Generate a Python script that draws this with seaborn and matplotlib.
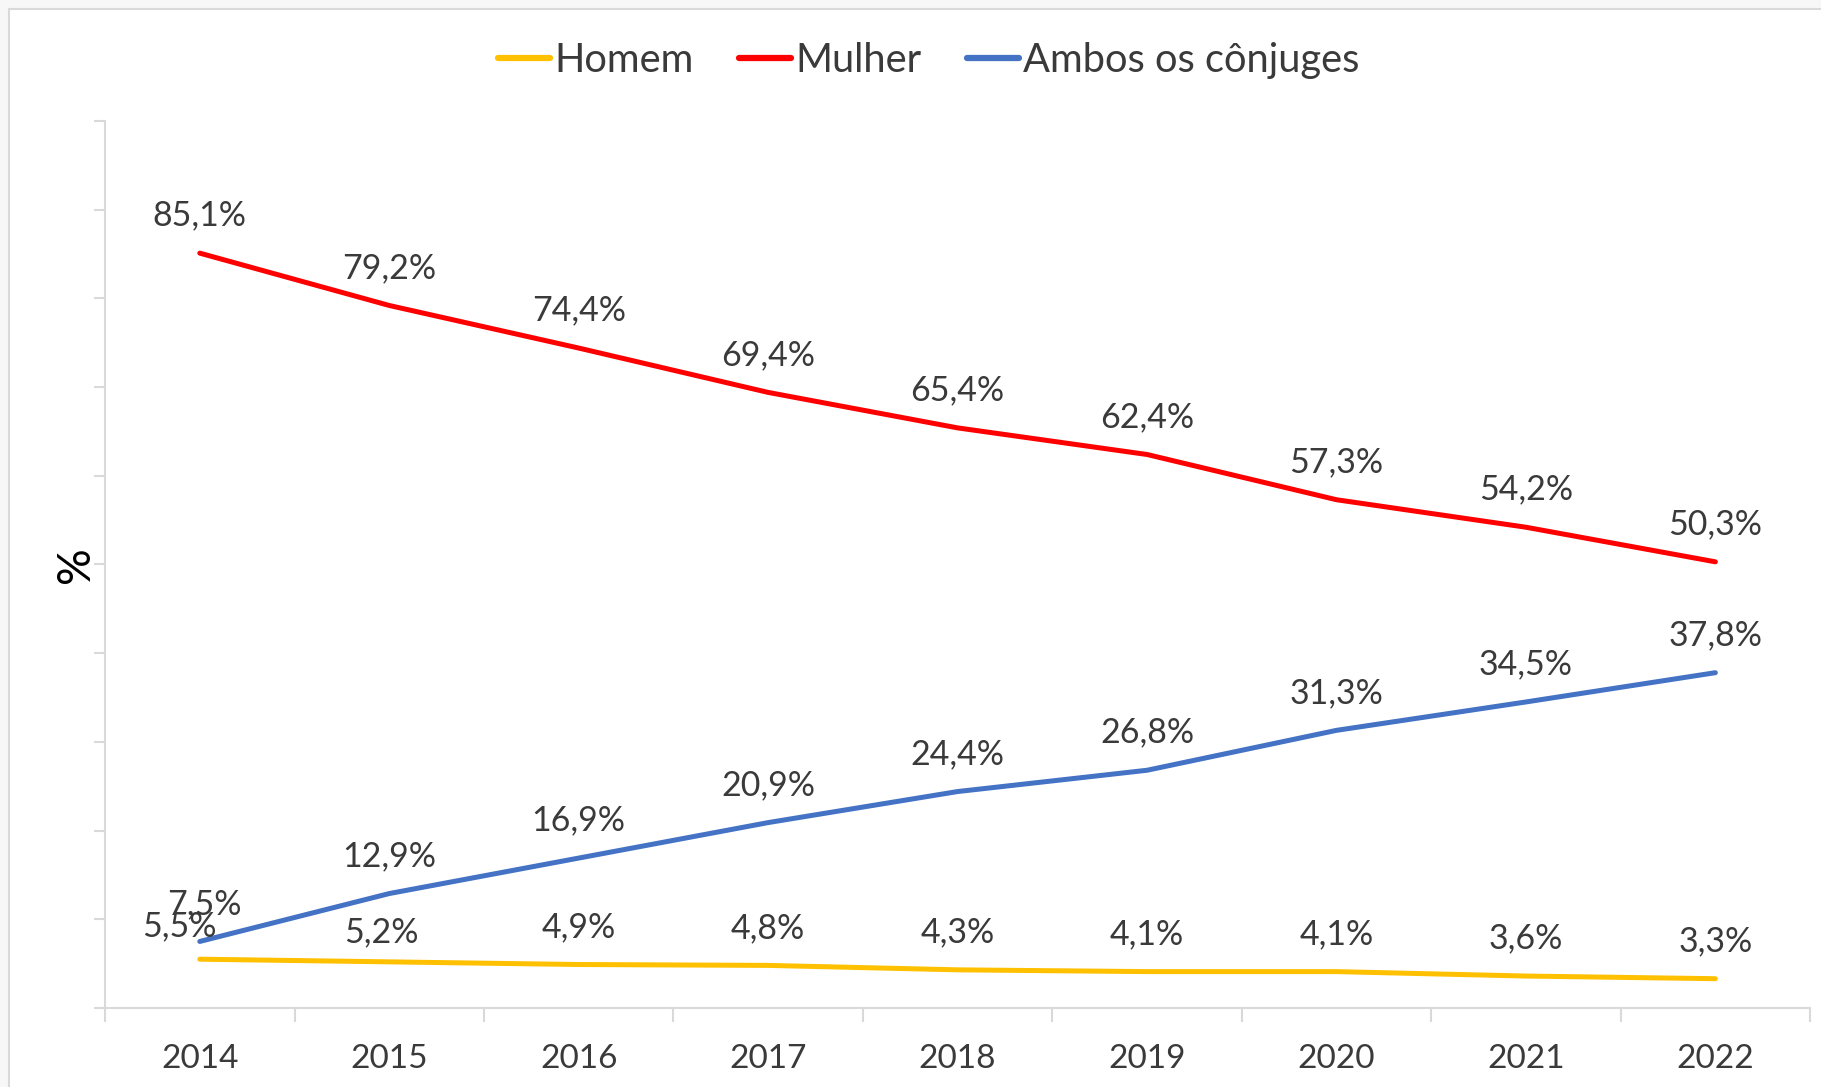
import matplotlib
matplotlib.use("Agg")
import matplotlib.pyplot as plt
from matplotlib.patches import Rectangle
import seaborn as sns
import pandas as pd
import numpy as np

# ---- data ----
years = ["2014", "2015", "2016", "2017", "2018", "2019", "2020", "2021", "2022"]
homem = [5.5, 5.2, 4.9, 4.8, 4.3, 4.1, 4.1, 3.6, 3.3]
mulher = [85.1, 79.2, 74.4, 69.4, 65.4, 62.4, 57.3, 54.2, 50.3]
ambos = [7.5, 12.9, 16.9, 20.9, 24.4, 26.8, 31.3, 34.5, 37.8]
series_names = ["Homem", "Mulher", "Ambos os cônjuges"]
colors = ["#FFC000", "#FF0000", "#4472C4"]

sns.set_theme(style="white")
plt.rcParams["font.family"] = ["Lato", "DejaVu Sans"]

frames = []
for name, vals in zip(series_names, [homem, mulher, ambos]):
    frames.append(pd.DataFrame({"pos": np.arange(len(years)), "ano": years,
                                "valor": vals, "serie": name}))
df = pd.concat(frames, ignore_index=True)

fig = plt.figure(figsize=(18.21, 10.87), dpi=100)
fig.patch.set_facecolor("#f7f7f7")
fig.add_artist(Rectangle((0.0049, -0.02), 1.1, 0.9917 + 0.02,
                         transform=fig.transFigure, facecolor="white",
                         edgecolor="#d9d9d9", lw=1.5, zorder=-10))
ax = fig.add_axes([0.0577, 0.0727, 0.9940 - 0.0577, 0.8887 - 0.0727])
ax.set_facecolor("none")

sns.lineplot(data=df, x="pos", y="valor", hue="serie", hue_order=series_names,
             palette=colors, linewidth=3.6, ax=ax, legend=True,
             solid_capstyle="round")

# data labels
label_nudge = {("Homem", 0): (-15, -3), ("Homem", 1): (-6, -6),
               ("Ambos os cônjuges", 0): (3, 0)}
for name, vals in zip(series_names, [homem, mulher, ambos]):
    for i, v in enumerate(vals):
        dx, dy = label_nudge.get((name, i), (0, 0))
        ax.annotate(f"{v:.1f}%".replace(".", ","), xy=(i, v),
                    xytext=(dx, 27 + dy), textcoords="offset points",
                    ha="center", va="center", fontsize=24.5, color="#3a3a3a")

ax.set_xlim(-0.5, len(years) - 0.5)
ax.set_ylim(0, 100)
ax.set_xticks(np.arange(len(years)))
ax.set_xticklabels(years)
ax.set_xticks(np.arange(len(years) + 1) - 0.5, minor=True)
ax.set_yticks(np.arange(0, 101, 10))
ax.set_yticklabels([])
ax.tick_params(axis="x", which="major", length=0, pad=26, labelsize=24,
               labelcolor="#3a3a3a")
ax.tick_params(axis="x", which="minor", length=10, width=1.5, color="#d9d9d9",
               direction="out", bottom=True)
ax.tick_params(axis="y", which="major", length=8, width=1.5, color="#d9d9d9",
               direction="out", left=True)
for s in ["top", "right"]:
    ax.spines[s].set_visible(False)
for s in ["left", "bottom"]:
    ax.spines[s].set_color("#d9d9d9")
    ax.spines[s].set_linewidth(1.5)

ax.set_xlabel("")
ax.set_ylabel("%", fontsize=33, color="black")
ax.yaxis.set_label_coords(-0.005, 0.5)

handles, labels = ax.get_legend_handles_labels()
ax.legend(handles, labels, loc="center", bbox_to_anchor=(0.510, 0.944),
          bbox_transform=fig.transFigure, ncol=3, frameon=False,
          fontsize=28.7, handlelength=1.3, handletextpad=0.1,
          columnspacing=1.15, labelcolor="#3a3a3a")
for line in ax.get_legend().get_lines():
    line.set_linewidth(4.5)

fig.savefig("out.png", dpi=100, facecolor=fig.get_facecolor())
